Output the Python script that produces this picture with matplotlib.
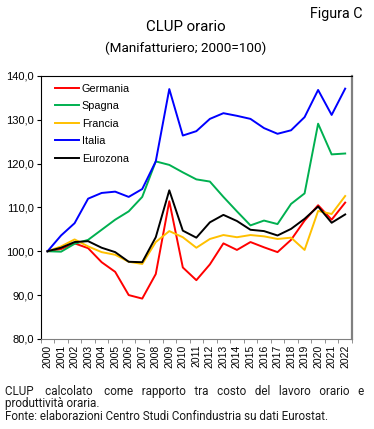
import numpy as np
import matplotlib
matplotlib.use("Agg")
import matplotlib.pyplot as plt

# --- data ---
years = [str(y) for y in range(2000, 2023)]
germania = [100.0, 100.5, 101.8, 100.7, 97.5, 95.3, 90.0, 89.2, 94.8, 111.4, 96.3, 93.4,
            97.0, 101.8, 100.3, 102.1, 100.9, 99.8, 102.6, 107.0, 110.5, 107.2, 111.1]
spagna = [100.0, 99.9, 101.7, 102.6, 104.9, 107.2, 109.1, 112.4, 120.5, 119.7, 118.0, 116.4,
          115.9, 112.4, 109.1, 105.9, 107.0, 106.2, 110.8, 113.2, 129.1, 122.1, 122.3]
francia = [100.0, 101.1, 102.7, 101.1, 99.8, 99.2, 97.6, 97.1, 102.1, 104.6, 103.2, 100.8,
           102.8, 103.7, 103.2, 103.7, 103.4, 102.8, 103.1, 100.3, 109.2, 108.5, 112.6]
italia = [100.0, 103.6, 106.4, 112.0, 113.3, 113.6, 112.4, 114.2, 120.5, 137.0, 126.4, 127.4,
          130.2, 131.5, 130.9, 130.2, 128.1, 126.8, 127.6, 130.6, 136.8, 131.1, 137.1]
eurozona = [100.0, 100.8, 102.1, 102.3, 100.8, 99.8, 97.6, 97.5, 103.2, 113.9, 104.7, 103.1,
            106.6, 108.3, 106.9, 104.9, 104.6, 103.6, 105.1, 107.4, 110.2, 106.5, 108.4]

series = [("Germania", germania, "#FF0000"),
          ("Spagna", spagna, "#00B050"),
          ("Francia", francia, "#FFC000"),
          ("Italia", italia, "#0000FF"),
          ("Eurozona", eurozona, "#000000")]

yticks = [80, 90, 100, 110, 120, 130, 140]

title_font = ["Roboto", "DejaVu Sans"]
tick_font = ["Liberation Sans", "DejaVu Sans"]

fig = plt.figure(figsize=(3.74, 4.29), dpi=100)
ax = fig.add_axes([0.109, 0.210, 0.832, 0.613])

x = np.arange(len(years))
for name, vals, col in series:
    ax.plot(x, vals, color=col, lw=1.4, label=name)

ax.set_xlim(-0.5, len(years) - 0.5)
ax.set_ylim(80, 140)
ax.set_yticks(yticks)
ax.set_yticklabels([f"{v:.1f}".replace(".", ",") for v in yticks],
                   fontsize=8, family=tick_font)
ax.set_xticks(x)
ax.set_xticklabels(years, rotation=90, fontsize=7.5, family=tick_font)
ax.set_xticks(np.arange(len(years) + 1) - 0.5, minor=True)
ax.tick_params(axis="x", which="major", length=0, pad=4)
ax.tick_params(axis="x", which="minor", length=3, color="#808080")
ax.tick_params(axis="y", length=3, pad=2)

ax.spines["left"].set_color("black")
ax.spines["top"].set_color("black")
ax.spines["right"].set_color("#808080")
ax.spines["right"].set_linewidth(1.6)
ax.spines["bottom"].set_color("#808080")

leg = ax.legend(loc="upper left", frameon=False,
                prop={"family": tick_font, "size": 7.8},
                handlelength=2.3, handletextpad=0.2, labelspacing=0.7,
                borderaxespad=0.3, bbox_to_anchor=(0.02, 1.0))

fig.text(0.970, 0.968, "Figura C", ha="right", va="center", fontsize=10.3, family=title_font)
fig.text(0.497, 0.937, "CLUP orario", ha="center", va="center", fontsize=10.8, family=title_font)
fig.text(0.497, 0.887, "(Manifatturiero; 2000=100)", ha="center", va="center",
         fontsize=9.7, family=title_font)

# footnote as one text block; first line stretched with extra spaces
note_size = 8.4
note_words = "CLUP calcolato come rapporto tra costo del lavoro orario e".split()
line2 = "produttività oraria."
line3 = "Fonte: elaborazioni Centro Studi Confindustria su dati Eurostat."
fig.canvas.draw()
renderer = fig.canvas.get_renderer()
target = 357
gaps = [1] * (len(note_words) - 1)


def build(g):
    s = note_words[0]
    for w, n in zip(note_words[1:], g):
        s += " " * n + w
    return s


probe = fig.text(0, 0, build(gaps), fontsize=note_size, family=title_font)
i = 0
while probe.get_window_extent(renderer).width < target:
    gaps[i % len(gaps)] += 1
    probe.set_text(build(gaps))
    i += 1
probe.remove()

fig.text(5 / 374, 1 - 384.5 / 429, "\n".join([build(gaps), line2, line3]),
         fontsize=note_size, family=title_font, va="top", ha="left",
         linespacing=1.0, color="#1a1a1a")

fig.savefig("out.png", dpi=100)
